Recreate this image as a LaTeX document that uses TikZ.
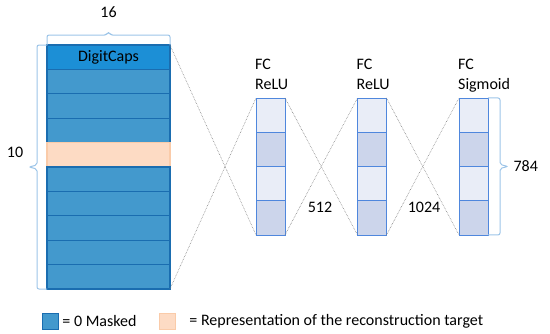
\documentclass[tikz,border=0pt]{standalone}
\usepackage{fontspec}
\setmainfont{Carlito}
\usetikzlibrary{positioning, calc}
\definecolor{capsblue}{HTML}{1C8FD6}
\definecolor{maskblue}{HTML}{4399CD}
\definecolor{rowline}{HTML}{1A6DB0}
\definecolor{target}{HTML}{FDDBC4}
\definecolor{targetline}{HTML}{FACBA9}
\definecolor{celllight}{HTML}{E9EDF7}
\definecolor{celldark}{HTML}{CCD5EB}
\definecolor{cellline}{HTML}{4F87DD}
\definecolor{bracecol}{HTML}{9CC4E8}

\begin{document}
\begin{tikzpicture}[
        x=1pt, y=-1pt,
        font=\fontsize{16}{20}\selectfont,
        node distance=0pt,
        zeile/.style={draw=rowline, line width=1.2pt, fill=maskblue, minimum width=123pt, minimum height=24.4pt, inner sep=0pt, outer sep=0pt},
        zelle/.style={draw=cellline, line width=0.9pt, fill=celllight, minimum width=29pt, minimum height=34.25pt, inner sep=0pt, outer sep=0pt},
        dunkel/.style={fill=celldark},
        schicht/.style={align=left, inner sep=0pt, text depth=0pt, anchor=south west},
        linie/.style={gray, densely dotted, line width=0.6pt},
        klammer/.style={bracecol, line width=1pt, rounded corners=2pt},
        kasten/.style={line width=0.9pt, minimum width=16pt, minimum height=16pt, inner sep=0pt}
    ]
        \useasboundingbox (0,0) rectangle (550,333);
        \node[zeile, fill=capsblue] (dc1) at (108.5,57.2) {DigitCaps};
        \node[zeile, below=of dc1] (dc2) {};
        \node[zeile, below=of dc2] (dc3) {};
        \node[zeile, below=of dc3] (dc4) {};
        \node[zeile, below=of dc4, fill=target, draw=targetline] (dc5) {};
        \node[zeile, below=of dc5] (dc6) {};
        \node[zeile, below=of dc6] (dc7) {};
        \node[zeile, below=of dc7] (dc8) {};
        \node[zeile, below=of dc8] (dc9) {};
        \node[zeile, below=of dc9] (dc10) {};
        \node[zelle] (fa1) at (270.5,115.1) {};
        \node[zelle, dunkel, below=of fa1] (fa2) {};
        \node[zelle, below=of fa2] (fa3) {};
        \node[zelle, dunkel, below=of fa3] (fa4) {};
        \node[zelle] (fb1) at (372,115.1) {};
        \node[zelle, dunkel, below=of fb1] (fb2) {};
        \node[zelle, below=of fb2] (fb3) {};
        \node[zelle, dunkel, below=of fb3] (fb4) {};
        \node[zelle] (fc1) at (473.5,115.1) {};
        \node[zelle, dunkel, below=of fc1] (fc2) {};
        \node[zelle, below=of fc2] (fc3) {};
        \node[zelle, dunkel, below=of fc3] (fc4) {};
        \node[schicht] (la) at ($(fa1.north west)+(-1,-8)$) {FC\\ReLU};
        \node[schicht] (lb) at ($(fb1.north west)+(-1,-8)$) {FC\\ReLU};
        \node[schicht] (lc) at ($(fc1.north west)+(-1,-8)$) {FC\\Sigmoid};
        \node (n16) at (108.5,12) {16};
        \node (n10) at (15,152) {10};
        \node (n512) at (320,207) {512};
        \node (n1024) at (424,207) {1024};
        \draw[linie] (dc1.north east) -- (fa4.south west);
        \draw[linie] (dc10.south east) -- (fa1.north west);
        \draw[linie] (fa1.north east) -- (fb4.south west);
        \draw[linie] (fa4.south east) -- (fb1.north west);
        \draw[linie] (fb1.north east) -- (fc4.south west);
        \draw[linie] (fb4.south east) -- (fc1.north west);
        \draw[klammer] (dc1.north west) -- ++(0,-10) -- ++(59.5,0) -- ++(2,-3) -- ++(2,3) -- ++(59.5,0) -- (dc1.north east);
        \draw[klammer] (dc1.north west) -- ++(-10,0) -- ++(0,120) -- ++(-8,2) -- ++(8,2) -- ++(0,120) -- (dc10.south west);
        \draw[klammer] (fc1.north east) -- ++(12,0) -- ++(0,66.5) -- ++(8,2) coordinate (spitze) -- ++(-8,2) -- ++(0,66.5) -- (fc4.south east);
        \node[right=2pt of spitze] (n784) {784};
        \node[kasten, fill=maskblue, draw=rowline] (lgmask) at (50.5,321) {};
        \node[right=0pt of lgmask] (txmask) {= 0 Masked};
        \node[kasten, fill=target, draw=targetline] (lgziel) at (167.5,321) {};
        \node[right=10pt of lgziel] (txziel) {= Representation of the reconstruction target};
    \end{tikzpicture}
\end{document}
